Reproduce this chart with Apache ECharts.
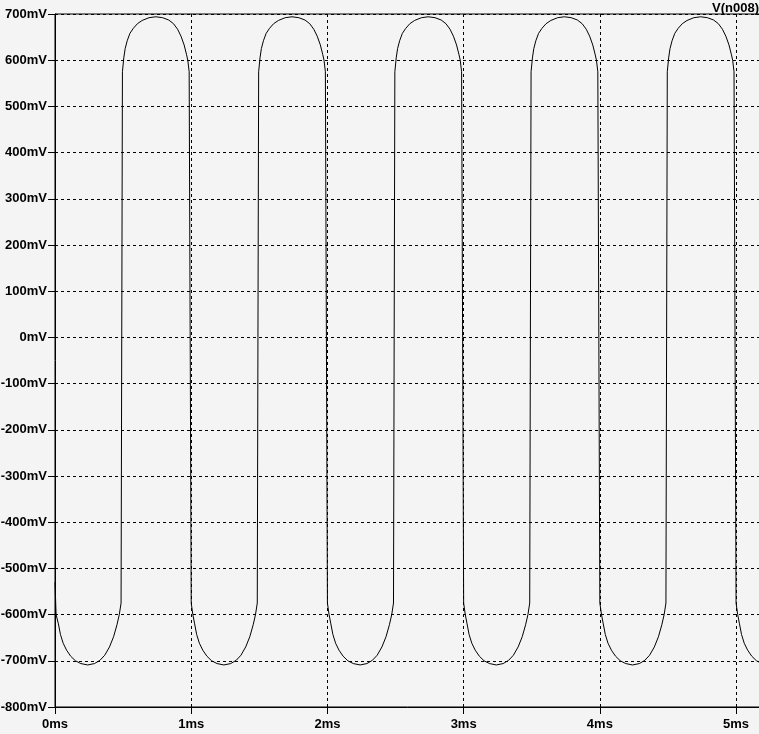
<!DOCTYPE html>
<html>
<head>
<meta charset="utf-8">
<script src="https://cdn.jsdelivr.net/npm/echarts@6/dist/echarts.min.js"></script>
<style>
  html, body { margin: 0; padding: 0; background: #f4f4f4; }
  #chart { width: 759px; height: 734px; }
</style>
</head>
<body>
<div id="chart"></div>
<script>
// 波形数据 (ms, mV) 从图上读出
var traceName = "V(n008)";
var timeMs = [
  0.000, 0.008, 0.025, 0.040, 0.060, 0.085, 0.115, 0.150, 0.190, 0.240, 0.290, 0.330, 0.365, 0.400, 0.430, 0.455, 0.472, 0.485,
  0.495, 0.505, 0.515, 0.530, 0.550, 0.575, 0.605, 0.640, 0.690, 0.740, 0.790, 0.835, 0.870, 0.900, 0.925, 0.948, 0.965, 0.975, 0.985,
  1.000, 1.012, 1.025, 1.040, 1.060, 1.085, 1.115, 1.150, 1.190, 1.240, 1.290, 1.330, 1.365, 1.400, 1.430, 1.455, 1.472, 1.485,
  1.495, 1.505, 1.515, 1.530, 1.550, 1.575, 1.605, 1.640, 1.690, 1.740, 1.790, 1.835, 1.870, 1.900, 1.925, 1.948, 1.965, 1.975, 1.985,
  2.000, 2.012, 2.025, 2.040, 2.060, 2.085, 2.115, 2.150, 2.190, 2.240, 2.290, 2.330, 2.365, 2.400, 2.430, 2.455, 2.472, 2.485,
  2.495, 2.505, 2.515, 2.530, 2.550, 2.575, 2.605, 2.640, 2.690, 2.740, 2.790, 2.835, 2.870, 2.900, 2.925, 2.948, 2.965, 2.975, 2.985,
  3.000, 3.012, 3.025, 3.040, 3.060, 3.085, 3.115, 3.150, 3.190, 3.240, 3.290, 3.330, 3.365, 3.400, 3.430, 3.455, 3.472, 3.485,
  3.495, 3.505, 3.515, 3.530, 3.550, 3.575, 3.605, 3.640, 3.690, 3.740, 3.790, 3.835, 3.870, 3.900, 3.925, 3.948, 3.965, 3.975, 3.985,
  4.000, 4.012, 4.025, 4.040, 4.060, 4.085, 4.115, 4.150, 4.190, 4.240, 4.290, 4.330, 4.365, 4.400, 4.430, 4.455, 4.472, 4.485,
  4.495, 4.505, 4.515, 4.530, 4.550, 4.575, 4.605, 4.640, 4.690, 4.740, 4.790, 4.835, 4.870, 4.900, 4.925, 4.948, 4.965, 4.975, 4.985,
  5.000, 5.012, 5.025, 5.040, 5.060, 5.085, 5.115, 5.150, 5.190, 5.240
];
var voltageMv = [
  -530, -600, -620, -643, -662, -677, -690, -700, -706, -709, -706, -699, -688, -670, -648, -622, -600, -575,
  575, 605, 625, 642, 658, 669, 679, 686, 692, 694, 692, 687, 679, 667, 652, 633, 613, 600, 575,
  -575, -600, -620, -643, -662, -677, -690, -700, -706, -709, -706, -699, -688, -670, -648, -622, -600, -575,
  575, 605, 625, 642, 658, 669, 679, 686, 692, 694, 692, 687, 679, 667, 652, 633, 613, 600, 575,
  -575, -600, -620, -643, -662, -677, -690, -700, -706, -709, -706, -699, -688, -670, -648, -622, -600, -575,
  575, 605, 625, 642, 658, 669, 679, 686, 692, 694, 692, 687, 679, 667, 652, 633, 613, 600, 575,
  -575, -600, -620, -643, -662, -677, -690, -700, -706, -709, -706, -699, -688, -670, -648, -622, -600, -575,
  575, 605, 625, 642, 658, 669, 679, 686, 692, 694, 692, 687, 679, 667, 652, 633, 613, 600, 575,
  -575, -600, -620, -643, -662, -677, -690, -700, -706, -709, -706, -699, -688, -670, -648, -622, -600, -575,
  575, 605, 625, 642, 658, 669, 679, 686, 692, 694, 692, 687, 679, 667, 652, 633, 613, 600, 575,
  -575, -600, -620, -643, -662, -677, -690, -700, -706, -709
];
var yTicksMv = [-800, 700, 100]; // min, max, step
var xTicksMs = [0, 5.183, 1];

(function() {
  var myChart = echarts.init(document.getElementById("chart"));
  var points = timeMs.map(function(t, i) { return [t, voltageMv[i]]; });
  var font = "Liberation Sans";
  var dashed = { color: "#000", width: 1, type: [3, 3] };

  var option = {
    backgroundColor: "#f4f4f4",
    animation: false,
    title: {
      text: traceName,
      right: -5,
      top: -3,
      textStyle: { fontFamily: font, fontWeight: "bold", fontSize: 13, color: "#000" }
    },
    grid: {
      left: 55, right: -2, top: 14, bottom: 27,
      containLabel: false,
      outerBoundsMode: "none",
      show: true,
      borderColor: "#000",
      borderWidth: 1
    },
    xAxis: {
      type: "value",
      min: xTicksMs[0],
      max: xTicksMs[1],
      interval: xTicksMs[2],
      axisLine: { show: true, onZero: false, lineStyle: { color: "#000" } },
      axisTick: { show: true, length: 7, lineStyle: { color: "#000" } },
      axisLabel: {
        margin: 11,
        color: "#000",
        fontFamily: font,
        fontWeight: "bold",
        fontSize: 13,
        showMaxLabel: false,
        formatter: function(v) { return Math.abs(v - Math.round(v)) < 1e-6 ? Math.round(v) + "ms" : ""; }
      },
      splitLine: { show: true, lineStyle: dashed }
    },
    yAxis: {
      type: "value",
      min: yTicksMv[0],
      max: yTicksMv[1],
      interval: yTicksMv[2],
      axisLine: { show: true, lineStyle: { color: "#000" } },
      axisTick: { show: true, length: 7, lineStyle: { color: "#000" } },
      axisLabel: {
        margin: 8,
        color: "#000",
        fontFamily: font,
        fontWeight: "bold",
        fontSize: 13,
        formatter: "{value}mV"
      },
      splitLine: { show: true, lineStyle: dashed }
    },
    series: [
      {
        name: traceName,
        type: "line",
        data: points,
        showSymbol: false,
        clip: true,
        lineStyle: { color: "#000", width: 1 }
      }
    ]
  };

  myChart.setOption(option);
})();
</script>
</body>
</html>
